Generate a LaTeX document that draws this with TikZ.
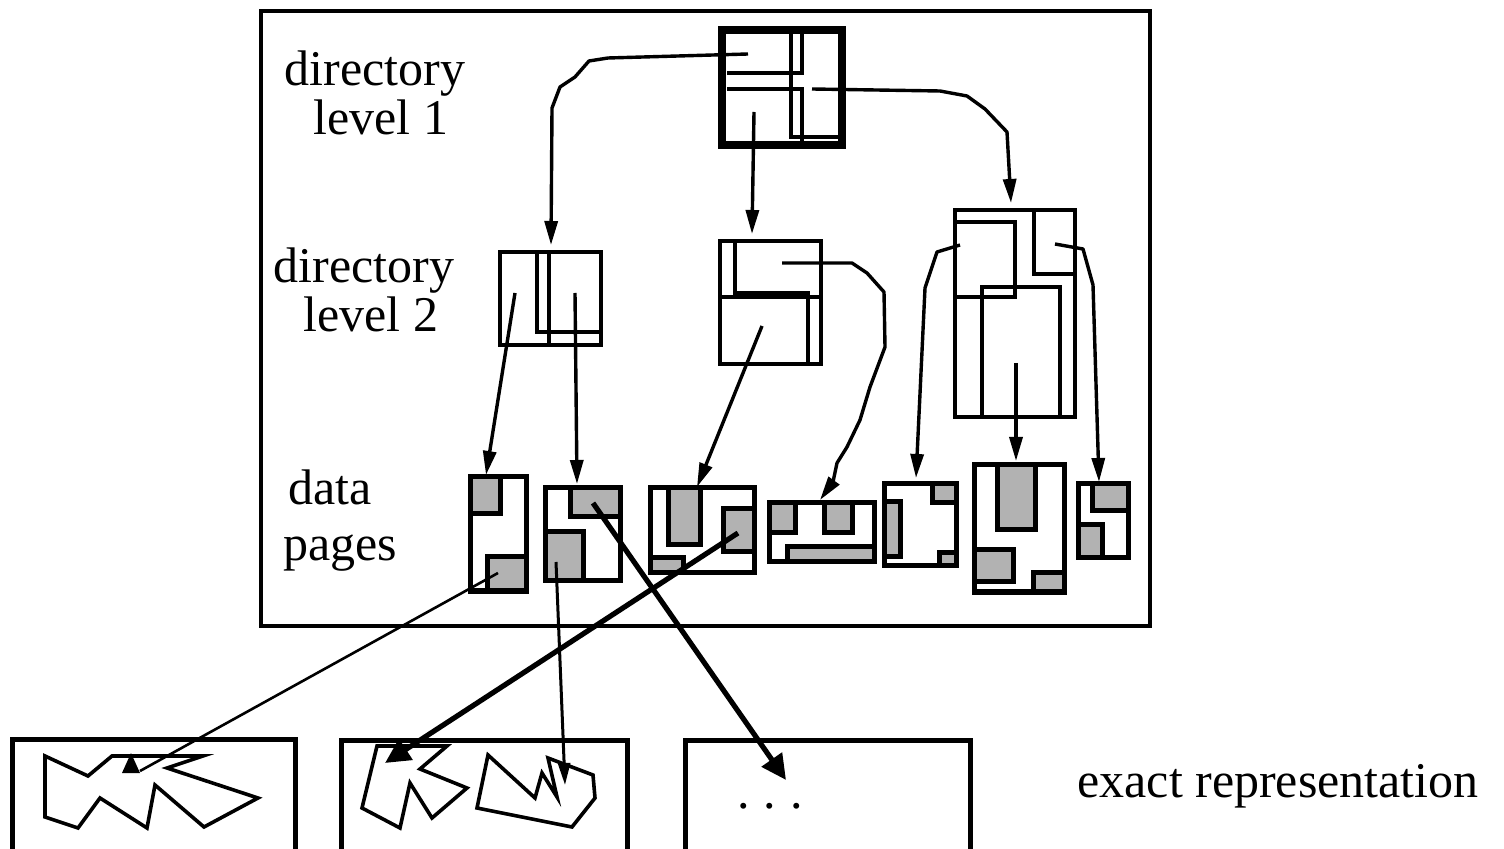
\documentclass[tikz,border=0pt]{standalone}
\usepackage{fontspec}
\setmainfont{Liberation Serif}
\usetikzlibrary{arrows.meta}
\begin{document}
\begin{tikzpicture}[x=0.5pt,y=-0.5pt,
  frame/.style={line width=2pt},
  dirthick/.style={line width=4pt},
  dirline/.style={line width=2pt},
  pageb/.style={line width=2.5pt},
  grey/.style={line width=2.5pt, fill=black!30},
  conn/.style={line width=1.7pt, line join=round, -{Triangle[length=12pt,width=6.5pt]}},
  thinconn/.style={line width=1.3pt, -{Triangle[length=11pt,width=6pt]}},
  thickconn/.style={line width=2.6pt, -{Triangle[length=12.5pt,width=12pt]}},
  poly/.style={line width=1.8pt, line join=miter},
  lbl/.style={font=\fontsize{25}{25}\selectfont, inner sep=0pt, anchor=base},
]
\useasboundingbox (0,0) rectangle (1504,849);
\clip (0,0) rectangle (1504,849);

% main frame
\draw[frame] (261,11) rectangle (1150,626);

% labels
\node[lbl] (d1a) at (375,86) {directory};
\node[lbl] (d1b) at (381,135) {level 1};
\node[lbl] (d2a) at (364,283) {directory};
\node[lbl] (d2b) at (371,332) {level 2};
\node[lbl, anchor=base west] (dp1) at (288,505) {data};
\node[lbl, anchor=base west] (dp2) at (283,560) {pages};
\node[lbl] (ex) at (1278,797) {exact representation};

% directory level 1
\draw[dirthick] (722,30) rectangle (842,145);
\draw[dirline] (791,34) -- (791,137) -- (838,137);
\draw[dirline] (727,73) -- (802,73) -- (802,34);
\draw[dirline] (727,89) -- (802,89) -- (802,142);

% directory level 2
\draw[dirline] (500,252) rectangle (601,345);
\draw[dirline] (537,252) -- (537,332) -- (601,332);
\draw[dirline] (549,252) -- (549,345);

\draw[dirline] (720,241) rectangle (821,364);
\draw[dirline] (720,297) -- (821,297);
\draw[dirline] (735,241) -- (735,293) -- (808,293) -- (808,364);

\draw[dirline] (955,210) rectangle (1075,417);
\draw[dirline] (955,222) -- (1015,222) -- (1015,297) -- (955,297);
\draw[dirline] (1034,210) -- (1034,274) -- (1075,274);
\draw[dirline] (982,417) -- (982,287) -- (1060,287) -- (1060,417);

% data pages
\draw[grey] (470,477) rectangle (500,514);
\draw[grey] (487,557) rectangle (526,591);
\draw[pageb] (470,477) rectangle (526,591);

\draw[grey] (570,488) rectangle (620,517);
\draw[grey] (545,532) rectangle (583,581);
\draw[pageb] (545,488) rectangle (620,581);

\draw[grey] (668,488) rectangle (700,545);
\draw[grey] (723,509) rectangle (754,552);
\draw[grey] (650,558) rectangle (683,573);
\draw[pageb] (650,488) rectangle (754,573);

\draw[grey] (769,503) rectangle (795,533);
\draw[grey] (824,503) rectangle (852,533);
\draw[grey] (787,547) rectangle (874,562);
\draw[pageb] (769,503) rectangle (874,562);

\draw[grey] (932,484) rectangle (956,503);
\draw[grey] (884,502) rectangle (900,557);
\draw[grey] (939,553) rectangle (956,566);
\draw[pageb] (884,484) rectangle (956,566);

\draw[grey] (997,465) rectangle (1035,530);
\draw[grey] (974,550) rectangle (1013,582);
\draw[grey] (1033,573) rectangle (1064,592);
\draw[pageb] (974,465) rectangle (1064,592);

\draw[grey] (1092,484) rectangle (1128,511);
\draw[grey] (1078,525) rectangle (1102,558);
\draw[pageb] (1078,484) rectangle (1128,558);

% exact representation boxes
\draw[pageb] (12,739) rectangle (295,853);
\draw[pageb] (341,740) rectangle (627,853);
\draw[pageb] (685,740) rectangle (970,853);

% polygons
\draw[poly] (45,756) -- (88,776) -- (112,756) -- (203,756) -- (167,768) -- (258,798)
  -- (204,827) -- (155,785) -- (147,828) -- (100,798) -- (78,828) -- (45,817) -- cycle;
\draw[poly] (377,746) -- (447,746) -- (420,769) -- (467,788) -- (432,818) -- (410,783)
  -- (400,828) -- (362,808) -- cycle;
\draw[poly] (488,755) -- (535,798) -- (542,773) -- (557,797) -- (548,758) -- (593,775)
  -- (595,798) -- (572,827) -- (477,808) -- cycle;
\node[lbl] (dots) at (770,808) {.\hspace{0.28em}.\hspace{0.28em}.};

% connector end points
\coordinate (s1l) at (748,54);
\coordinate (s1m) at (754,112);
\coordinate (s1r) at (812,89);
\coordinate (t2a) at (551,245);
\coordinate (t2b) at (752,234);
\coordinate (t2c) at (1011,203);
\coordinate (s2a) at (515,293);
\coordinate (s2b) at (575,293);
\coordinate (s2c) at (782,263);
\coordinate (s2d) at (762,326);
\coordinate (s2e) at (960,245);
\coordinate (s2f) at (1016,363);
\coordinate (s2g) at (1055,244);
\coordinate (p1) at (486,475);
\coordinate (p2) at (577,484);
\coordinate (p3) at (697,487);
\coordinate (p4) at (820,500);
\coordinate (p5) at (916,478);
\coordinate (p6) at (1016,461);
\coordinate (p7) at (1099,482);
\coordinate (o1) at (498,573);
\coordinate (o2a) at (593,503);
\coordinate (o2b) at (556,562);
\coordinate (o3) at (738,533);
\coordinate (e1) at (140,771);
\coordinate (e2) at (385,763);
\coordinate (e3) at (565,785);
\coordinate (e4) at (786,780);

% level 1 -> level 2
\draw[conn] (s1l) -- (608,58) -- (589,61) -- (575,77) -- (560,87) -- (552,108) -- (t2a);
\draw[conn] (s1m) -- (t2b);
\draw[conn] (s1r) -- (940,91) -- (967,96) -- (985,109) -- (1007,132) -- (t2c);

% level 2 -> data pages
\draw[conn] (s2a) -- (p1);
\draw[conn] (s2b) -- (p2);
\draw[conn] (s2c) -- (852,263) -- (867,273) -- (884,292) -- (885,347) -- (870,387)
  -- (860,420) -- (847,447) -- (837,463) -- (833,482) -- (p4);
\draw[conn] (s2d) -- (p3);
\draw[conn] (s2e) -- (937,252) -- (925,288) -- (p5);
\draw[conn] (s2f) -- (p6);
\draw[conn] (s2g) -- (1083,249) -- (1093,285) -- (p7);

% data pages -> exact representation
\draw[line width=1.3pt] (o1) -- (e1);
\fill (131,753) -- (122,773) -- (140,773) -- cycle;
\draw[thinconn, line width=1.5pt] (o2b) -- (e3);
\draw[thickconn] (o3) -- (e2);
\draw[thickconn] (o2a) -- (e4);
\end{tikzpicture}
\end{document}
